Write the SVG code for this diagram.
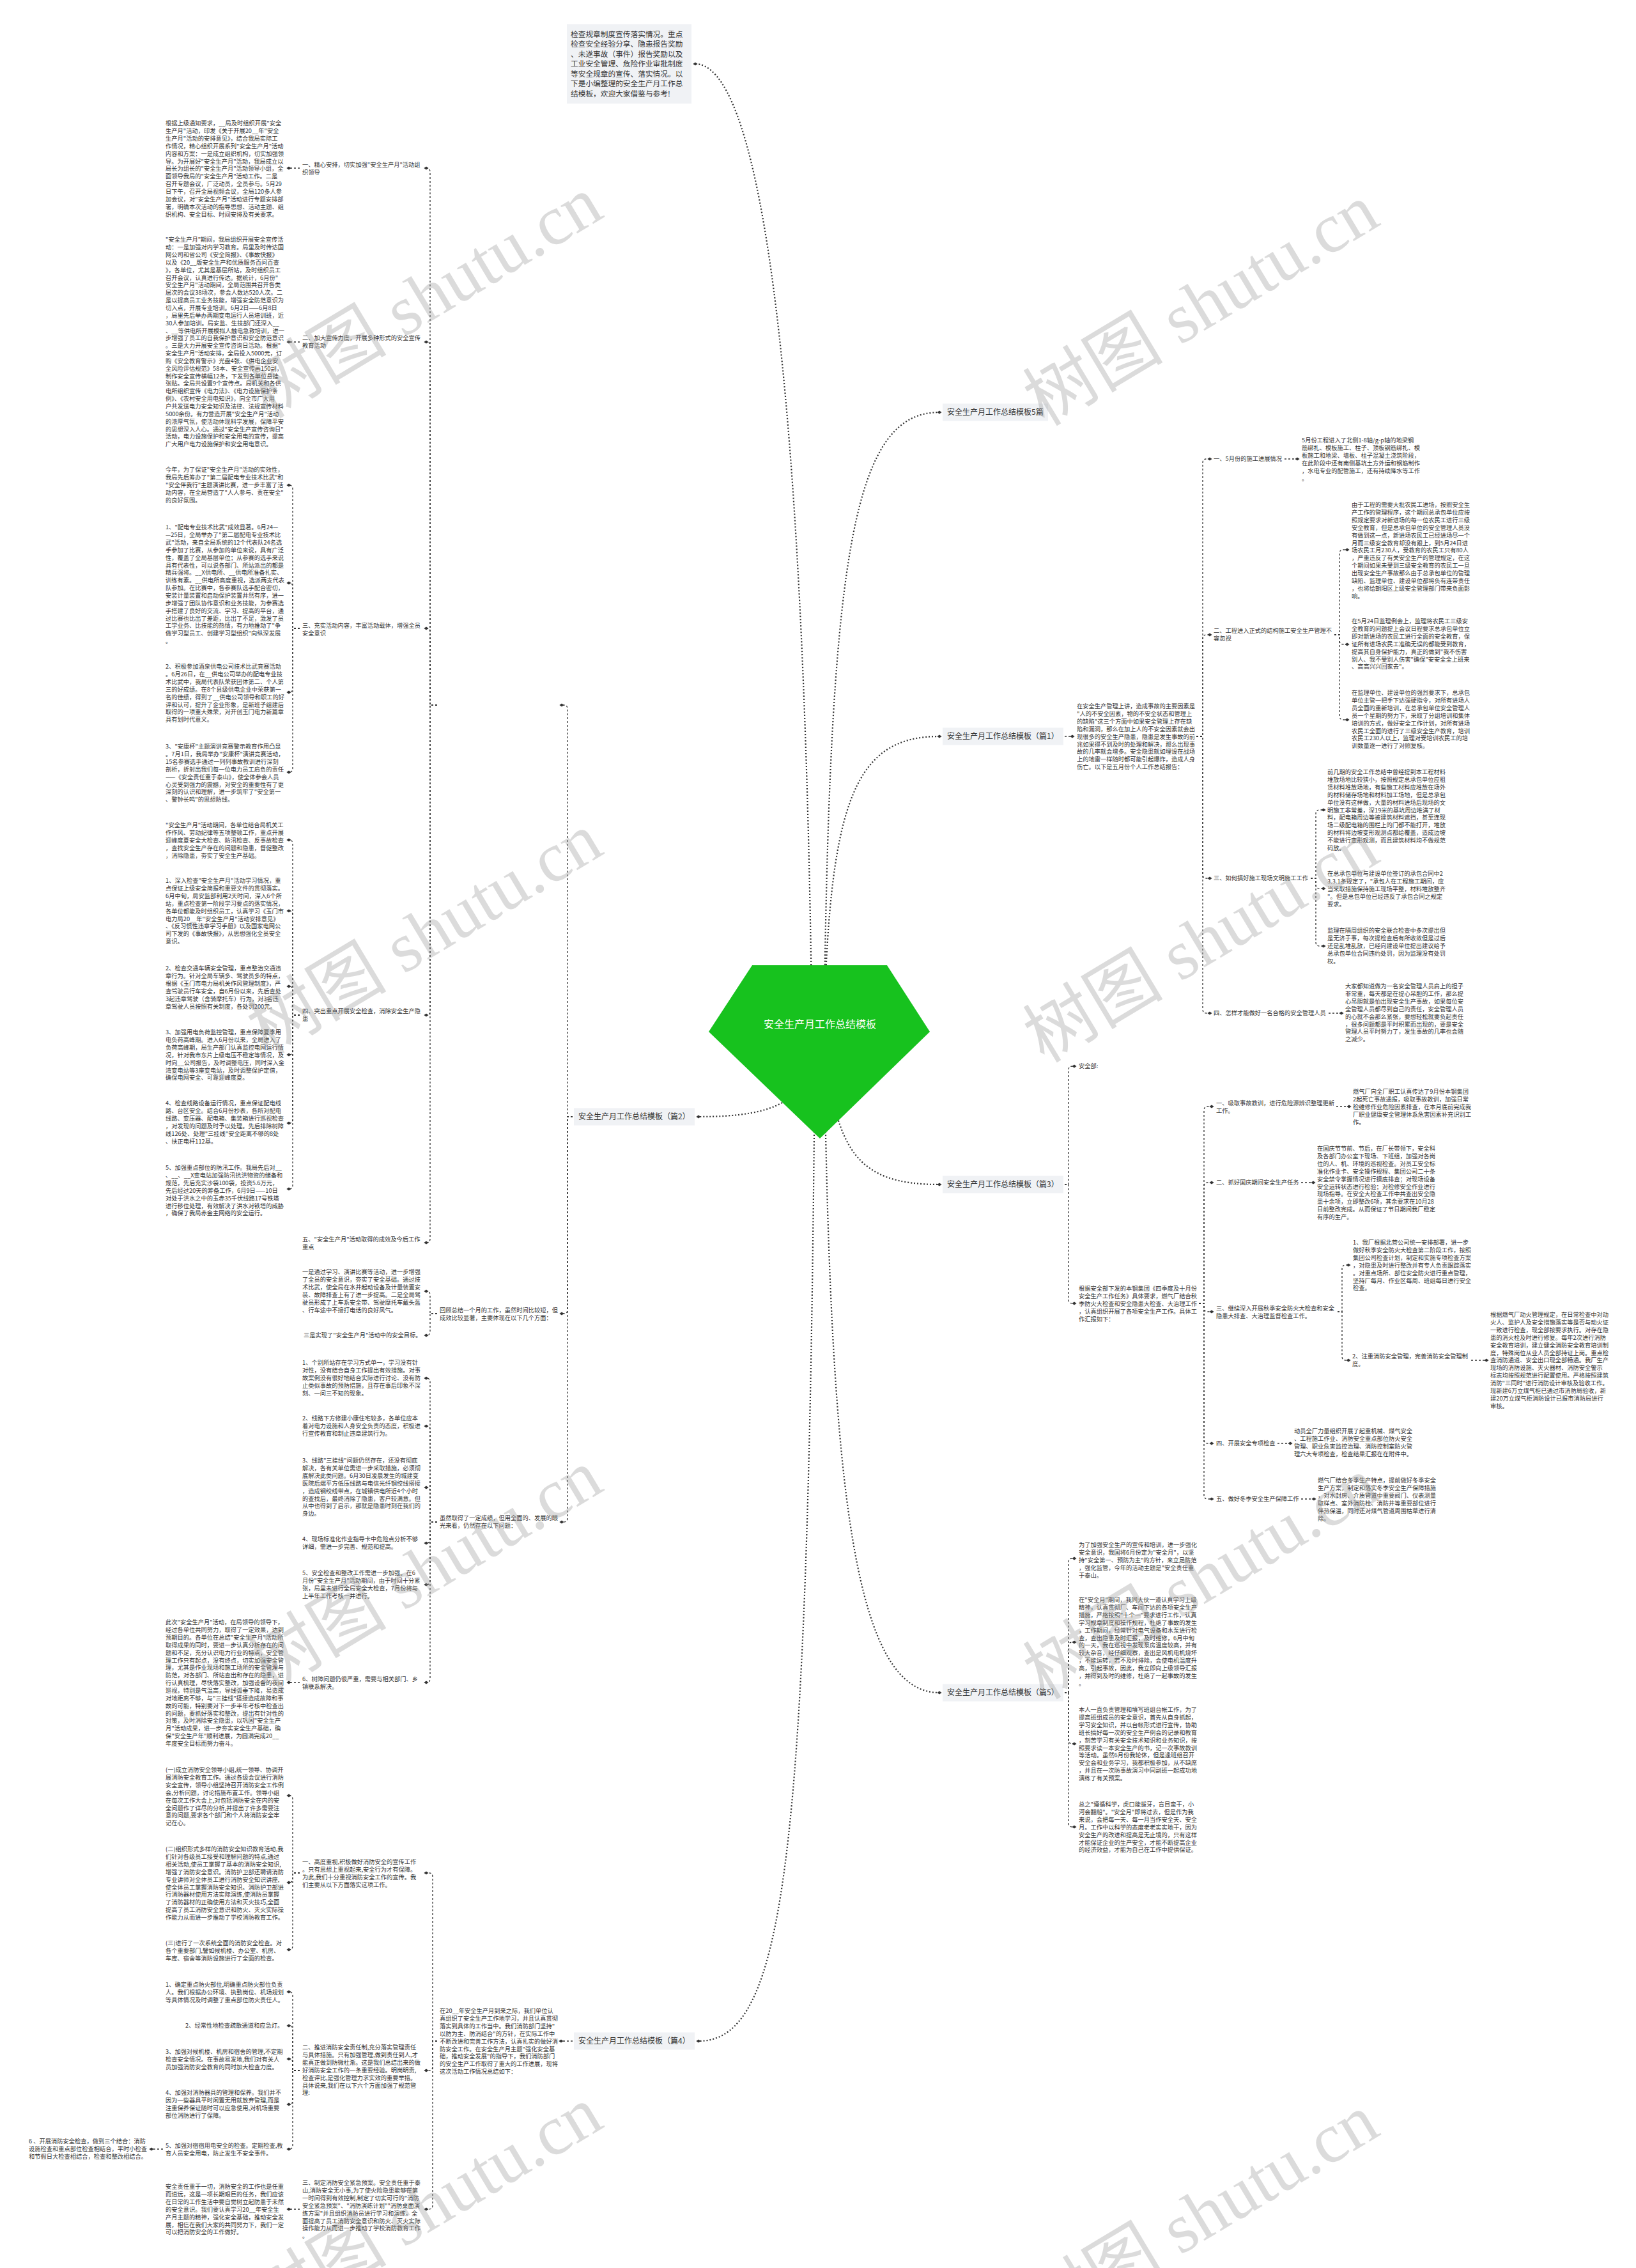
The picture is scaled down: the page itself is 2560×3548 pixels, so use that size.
<svg xmlns="http://www.w3.org/2000/svg" width="2560" height="3548" viewBox="0 0 2560 3548">
<defs>
<marker id="d" viewBox="-4 -4 8 8" markerWidth="8" markerHeight="8" refX="0" refY="0" markerUnits="userSpaceOnUse" orient="auto"><path d="M-3.6 0 L0 -2.6 L3.6 0 L0 2.6Z" fill="#333"/></marker>
<style>
.t{font-family:"Noto Sans CJK SC","Liberation Sans",sans-serif;font-size:9.25px;fill:#333}
.lb{font-family:"Noto Sans CJK SC","Liberation Sans",sans-serif;font-size:12px;fill:#333}
.in{font-family:"Noto Sans CJK SC","Liberation Sans",sans-serif;font-size:11.7px;fill:#333}
.c{fill:none;stroke:#333;stroke-width:1.3;stroke-dasharray:3 3;marker-end:url(#d)}
.r{fill:none;stroke:#333;stroke-width:2.2;stroke-dasharray:2 3;marker-end:url(#d)}
.box{fill:#F0F2F5}
.wm{font-family:"Liberation Serif","Noto Sans CJK SC",serif;font-size:110px;fill:#9a9a9a;opacity:.35}
</style>
</defs>
<rect width="2560" height="3548" fill="#fff"/>
<g id="connectors">
<path class="r" d="M1270 1560 C1255 500 1180 100 1088 100"/>
<path class="r" d="M1290 1560 C1300 850 1340 645 1470 645"/>
<path class="r" d="M1290 1580 C1300 1250 1340 1152 1470 1152"/>
<path class="r" d="M1290 1640 C1310 1800 1340 1853 1470 1853"/>
<path class="r" d="M1290 1660 C1300 2350 1340 2648 1470 2648"/>
<path class="r" d="M1280 1640 C1260 1720 1220 1747 1093 1747"/>
<path class="r" d="M1275 1660 C1265 2900 1230 3193 1093 3193"/>
<path class="c" d="M1666 1152 H1678"/>
<path class="c" d="M1872 1152 H1882 V724 Q1882 718 1888 718 H1893"/>
<path class="c" d="M1872 1152 H1882 V999 Q1882 993 1888 993 H1893"/>
<path class="c" d="M1872 1152 H1882 V1368 Q1882 1374 1888 1374 H1893"/>
<path class="c" d="M1872 1152 H1882 V1579 Q1882 1585 1888 1585 H1893"/>
<path class="c" d="M2010 718 H2030"/>
<path class="c" d="M2088 993 H2096 V866 Q2096 860 2102 860 H2108"/>
<path class="c" d="M2088 993 H2096 V1002 Q2096 1008 2102 1008 H2108"/>
<path class="c" d="M2088 993 H2096 V1120 Q2096 1126 2102 1126 H2108"/>
<path class="c" d="M2051 1374 H2059 V1273 Q2059 1267 2065 1267 H2071"/>
<path class="c" d="M2051 1374 H2059 V1384 Q2059 1390 2065 1390 H2071"/>
<path class="c" d="M2051 1374 H2059 V1474 Q2059 1480 2065 1480 H2071"/>
<path class="c" d="M2079 1585 H2099"/>
<path class="c" d="M1666 1853 H1672 V1674 Q1672 1668 1678 1668 H1681"/>
<path class="c" d="M1666 1853 H1672 V2033 Q1672 2039 1678 2039 H1681"/>
<path class="c" d="M1876 2039 H1884 V1737 Q1884 1731 1890 1731 H1896"/>
<path class="c" d="M1876 2039 H1884 V1856 Q1884 1850 1890 1850 H1896"/>
<path class="c" d="M1876 2039 H1884 V2046 Q1884 2052 1890 2052 H1896"/>
<path class="c" d="M1876 2039 H1884 V2252 Q1884 2258 1890 2258 H1896"/>
<path class="c" d="M1876 2039 H1884 V2339 Q1884 2345 1890 2345 H1896"/>
<path class="c" d="M2091 1731 H2111"/>
<path class="c" d="M2036 1850 H2055"/>
<path class="c" d="M2093 2052 H2100 V1985 Q2100 1979 2106 1979 H2110"/>
<path class="c" d="M2093 2052 H2100 V2122 Q2100 2128 2106 2128 H2110"/>
<path class="c" d="M2302 2128 H2326"/>
<path class="c" d="M1999 2258 H2019"/>
<path class="c" d="M2036 2345 H2056"/>
<path class="c" d="M1666 2648 H1672 V2444 Q1672 2438 1678 2438 H1681"/>
<path class="c" d="M1666 2648 H1672 V2575 Q1672 2569 1678 2569 H1681"/>
<path class="c" d="M1666 2648 H1672 V2722 Q1672 2728 1678 2728 H1681"/>
<path class="c" d="M1666 2648 H1672 V2852 Q1672 2858 1678 2858 H1681"/>
<path class="c" d="M896 1747 H888 V1109 Q888 1103 882 1103 H879"/>
<path class="c" d="M896 1747 H888 V2049 Q888 2055 882 2055 H879"/>
<path class="c" d="M896 1747 H888 V2375 Q888 2381 882 2381 H879"/>
<path class="c" d="M684 1103 H673 V269 Q673 263 667 263"/>
<path class="c" d="M684 1103 H673 V541 Q673 535 667 535"/>
<path class="c" d="M684 1103 H673 V989 Q673 983 667 983"/>
<path class="c" d="M684 1103 H673 V1582 Q673 1588 667 1588"/>
<path class="c" d="M684 1103 H673 V1938 Q673 1944 667 1944"/>
<path class="c" d="M469 263 H452"/>
<path class="c" d="M469 535 H452"/>
<path class="c" d="M469 983 H458 V765 Q458 759 452 759"/>
<path class="c" d="M469 983 H458 V918 Q458 912 452 912"/>
<path class="c" d="M469 983 H458 V1077 Q458 1083 452 1083"/>
<path class="c" d="M469 983 H458 V1202 Q458 1208 452 1208"/>
<path class="c" d="M469 1588 H458 V1320 Q458 1314 452 1314"/>
<path class="c" d="M469 1588 H458 V1431 Q458 1425 452 1425"/>
<path class="c" d="M469 1588 H458 V1549 Q458 1543 452 1543"/>
<path class="c" d="M469 1588 H458 V1644 Q458 1650 452 1650"/>
<path class="c" d="M469 1588 H458 V1751 Q458 1757 452 1757"/>
<path class="c" d="M469 1588 H458 V1854 Q458 1860 452 1860"/>
<path class="c" d="M684 2055 H673 V2026 Q673 2020 667 2020"/>
<path class="c" d="M684 2055 H673 V2083 Q673 2089 667 2089"/>
<path class="c" d="M684 2381 H673 V2162 Q673 2156 667 2156"/>
<path class="c" d="M684 2381 H673 V2237 Q673 2231 667 2231"/>
<path class="c" d="M684 2381 H673 V2333 Q673 2327 667 2327"/>
<path class="c" d="M684 2381 H673 V2408 Q673 2414 667 2414"/>
<path class="c" d="M684 2381 H673 V2473 Q673 2479 667 2479"/>
<path class="c" d="M684 2381 H673 V2626 Q673 2632 667 2632"/>
<path class="c" d="M469 2632 H452"/>
<path class="c" d="M896 3193 H878"/>
<path class="c" d="M684 3193 H677 V2936 Q677 2930 671 2930 H667"/>
<path class="c" d="M684 3193 H677 V3233 Q677 3239 671 3239 H667"/>
<path class="c" d="M684 3193 H677 V3450 Q677 3456 671 3456 H667"/>
<path class="c" d="M469 2930 H458 V2815 Q458 2809 452 2809"/>
<path class="c" d="M469 2930 H458 V2939 Q458 2945 452 2945"/>
<path class="c" d="M469 2930 H458 V3044 Q458 3050 452 3050"/>
<path class="c" d="M469 3239 H458 V3122 Q458 3116 452 3116"/>
<path class="c" d="M469 3239 H458 V3175 Q458 3169 452 3169"/>
<path class="c" d="M469 3239 H458 V3227 Q458 3221 452 3221"/>
<path class="c" d="M469 3239 H458 V3286 Q458 3292 452 3292"/>
<path class="c" d="M469 3239 H458 V3356 Q458 3362 452 3362"/>
<path class="c" d="M469 3456 H452"/>
<path class="c" d="M255 3362 H237"/>
</g>
<g id="root">
<polygon points="1177,1510 1388,1510 1455,1614 1283,1781 1109,1614" fill="#17C21E"/>
<text x="1283" y="1608" text-anchor="middle" font-family="Noto Sans CJK SC,Liberation Sans,sans-serif" font-size="16" fill="#fff">安全生产月工作总结模板</text>
</g>
<g id="intro">
<rect class="box" x="887" y="38" width="195" height="124"/>
<text class="in" x="893" y="57.5"><tspan x="893">检查规章制度宣传落实情况。重点</tspan><tspan x="893" dy="15.5">检查安全经验分享、隐患报告奖励</tspan><tspan x="893" dy="15.5">、未遂事故（事件）报告奖励以及</tspan><tspan x="893" dy="15.5">工业安全管理、危险作业审批制度</tspan><tspan x="893" dy="15.5">等安全规章的宣传、落实情况。以</tspan><tspan x="893" dy="15.5">下是小编整理的安全生产月工作总</tspan><tspan x="893" dy="15.5">结模板，欢迎大家借鉴与参考!</tspan></text>
</g>
<g id="b5"><rect class="box" x="1475" y="631.5" width="165" height="27"/><text class="lb" x="1482" y="649.3">安全生产月工作总结模板5篇</text></g>
<g id="b1"><rect class="box" x="1475" y="1138.5" width="189" height="27"/><text class="lb" x="1482" y="1156.3">安全生产月工作总结模板（篇1）</text></g>
<g id="b3"><rect class="box" x="1475" y="1839.5" width="189" height="27"/><text class="lb" x="1482" y="1857.3">安全生产月工作总结模板（篇3）</text></g>
<g id="b5p"><rect class="box" x="1475" y="2634.5" width="189" height="27"/><text class="lb" x="1482" y="2652.3">安全生产月工作总结模板（篇5）</text></g>
<g id="b2"><rect class="box" x="898" y="1733.5" width="189" height="27"/><text class="lb" x="905" y="1751.3">安全生产月工作总结模板（篇2）</text></g>
<g id="b4"><rect class="box" x="898" y="3179.5" width="189" height="27"/><text class="lb" x="905" y="3197.3">安全生产月工作总结模板（篇4）</text></g>

<g id="A0"><text class="t" x="1685" y="1108.3"><tspan x="1685">在安全生产管理上讲，造成事故的主要因素是</tspan><tspan x="1685" dy="11.85">"人的不安全因素，物的不安全状态和管理上</tspan><tspan x="1685" dy="11.85">的缺陷"这三个方面中如果安全管理上存在缺</tspan><tspan x="1685" dy="11.85">陷和漏洞，那么在加上人的不安全因素就会出</tspan><tspan x="1685" dy="11.85">现很多的安全生产隐患，隐患是发生事故的前</tspan><tspan x="1685" dy="11.85">兆如果得不到及时的处理和解决，那么出现事</tspan><tspan x="1685" dy="11.85">故的几率就会增多。安全隐患就如埋设在战场</tspan><tspan x="1685" dy="11.85">上的地雷一样随时都可能引起爆炸，造成人身</tspan><tspan x="1685" dy="11.85">伤亡。以下是五月份个人工作总结报告：</tspan></text></g>
<g id="A1"><text class="t" x="1899" y="721.3">一、5月份的施工进展情况</text></g>
<g id="A1t"><text class="t" x="2037" y="692.3"><tspan x="2037">5月份工程进入了北侧1-8轴/g-p轴的地梁钢</tspan><tspan x="2037" dy="11.85">筋绑扎、模板施工、柱子、顶板钢筋绑扎、模</tspan><tspan x="2037" dy="11.85">板施工和地梁、墙板、柱子混凝土浇筑阶段，</tspan><tspan x="2037" dy="11.85">在此阶段中还有南侧基坑土方外运和钢筋制作</tspan><tspan x="2037" dy="11.85">，水电专业的配管施工，还有持续降水等工作</tspan><tspan x="2037" dy="11.85">。</tspan></text></g>
<g id="A2"><text class="t" x="1899" y="990.3"><tspan x="1899">二、工程进入正式的结构施工安全生产管理不</tspan><tspan x="1899" dy="11.85">容忽视</tspan></text></g>
<g id="A2a"><text class="t" x="2115" y="793.3"><tspan x="2115">由于工程的需要大批农民工进场，按照安全生</tspan><tspan x="2115" dy="11.85">产工作的管理程序，这个期间总承包单位应按</tspan><tspan x="2115" dy="11.85">照规定要求对新进场的每一位农民工进行三级</tspan><tspan x="2115" dy="11.85">安全教育，但是总承包单位的安全管理人员没</tspan><tspan x="2115" dy="11.85">有做到这一点，新进场农民工已经进场尽一个</tspan><tspan x="2115" dy="11.85">月而三级安全教育却没有跟上，到5月24日进</tspan><tspan x="2115" dy="11.85">场农民工月230人，受教育的农民工只有80人</tspan><tspan x="2115" dy="11.85">，严重违反了有关安全生产的管理规定，在这</tspan><tspan x="2115" dy="11.85">个期间如果未受到三级安全教育的农民工一旦</tspan><tspan x="2115" dy="11.85">出现安全生产事故那么由于总承包单位的管理</tspan><tspan x="2115" dy="11.85">缺陷、监理单位、建设单位都将负有连带责任</tspan><tspan x="2115" dy="11.85">，也将给朝阳区上级安全管理部门带来负面影</tspan><tspan x="2115" dy="11.85">响。</tspan></text></g>
<g id="A2b"><text class="t" x="2115" y="975.3"><tspan x="2115">在5月24日监理例会上，监理将农民工三级安</tspan><tspan x="2115" dy="11.85">全教育的问题提上会议日程要求总承包单位立</tspan><tspan x="2115" dy="11.85">即对新进场的农民工进行全面的安全教育，保</tspan><tspan x="2115" dy="11.85">证所有进场农民工准确无误的都能受到教育，</tspan><tspan x="2115" dy="11.85">提高其自身保护能力，真正的做到"我不伤害</tspan><tspan x="2115" dy="11.85">别人、我不受别人伤害"确保"安安全全上班来</tspan><tspan x="2115" dy="11.85">、高高兴兴回家去"。</tspan></text></g>
<g id="A2c"><text class="t" x="2115" y="1087.3"><tspan x="2115">在监理单位、建设单位的强烈要求下，总承包</tspan><tspan x="2115" dy="11.85">单位主管一把手下达强硬指令，对所有进场人</tspan><tspan x="2115" dy="11.85">员全面的重新培训，在总承包单位安全管理人</tspan><tspan x="2115" dy="11.85">员一个星期的努力下，采取了分组培训和集体</tspan><tspan x="2115" dy="11.85">培训的方式，做好安全工作计划，对所有进场</tspan><tspan x="2115" dy="11.85">农民工全面的进行了三级安全生产教育，培训</tspan><tspan x="2115" dy="11.85">农民工230人以上，监理对受培训农民工的培</tspan><tspan x="2115" dy="11.85">训数量逐一进行了对照复核。</tspan></text></g>
<g id="A3"><text class="t" x="1899" y="1377.3">三、如何搞好施工现场文明施工工作</text></g>
<g id="A3a"><text class="t" x="2077" y="1211.3"><tspan x="2077">前几期的安全工作总结中曾经提到本工程材料</tspan><tspan x="2077" dy="11.85">堆放场地比较狭小，按照规定总承包单位应租</tspan><tspan x="2077" dy="11.85">赁材料堆放场地，有些施工材料应堆放在场外</tspan><tspan x="2077" dy="11.85">的材料储存场地和材料加工场地，但是总承包</tspan><tspan x="2077" dy="11.85">单位没有这样做，大量的材料进场后现场的文</tspan><tspan x="2077" dy="11.85">明施工非常差，深19米的基坑周边堆满了材</tspan><tspan x="2077" dy="11.85">料，配电箱周边等被建筑材料遮挡，甚至连现</tspan><tspan x="2077" dy="11.85">场二级配电箱的围栏上的门都不能打开，堆放</tspan><tspan x="2077" dy="11.85">的材料将边坡变形观测点都给覆盖，造成边坡</tspan><tspan x="2077" dy="11.85">不能进行变形观测，而且建筑材料均不做规范</tspan><tspan x="2077" dy="11.85">码放。</tspan></text></g>
<g id="A3b"><text class="t" x="2077" y="1370.3"><tspan x="2077">在总承包单位与建设单位签订的承包合同中2</tspan><tspan x="2077" dy="11.85">3.3.1条规定了，"承包人在工程施工期间，应</tspan><tspan x="2077" dy="11.85">当采取措施保持施工现场平整，材料堆放整齐</tspan><tspan x="2077" dy="11.85">"。但是总包单位已经违反了承包合同之规定</tspan><tspan x="2077" dy="11.85">要求。</tspan></text></g>
<g id="A3c"><text class="t" x="2077" y="1459.3"><tspan x="2077">监理在隔周组织的安全联合检查中多次提出但</tspan><tspan x="2077" dy="11.85">是无济于事，每次提检查后有所收敛但是过后</tspan><tspan x="2077" dy="11.85">还是乱堆乱放，已经向建设单位提出建议给予</tspan><tspan x="2077" dy="11.85">总承包单位合同违约处罚，因为监理没有处罚</tspan><tspan x="2077" dy="11.85">权。</tspan></text></g>
<g id="A4"><text class="t" x="1899" y="1588.3">四、怎样才能做好一名合格的安全管理人员</text></g>
<g id="A4t"><text class="t" x="2105" y="1546.3"><tspan x="2105">大家都知道做为一名安全管理人员肩上的担子</tspan><tspan x="2105" dy="11.85">非常重，每天都是在提心吊胆的工作，那么提</tspan><tspan x="2105" dy="11.85">心吊胆就是怕出现安全生产事故，如果每位安</tspan><tspan x="2105" dy="11.85">全管理人员都尽到自己的责任，安全管理人员</tspan><tspan x="2105" dy="11.85">的心就不会那么紧张，要想轻松就要负起责任</tspan><tspan x="2105" dy="11.85">，很多问题都是平时积累而出现的，要是安全</tspan><tspan x="2105" dy="11.85">管理人员平时努力了，发生事故的几率也会随</tspan><tspan x="2105" dy="11.85">之减少。</tspan></text></g>

<g id="B0"><text class="t" x="1688" y="1671.3">安全部:</text></g>
<g id="B1"><text class="t" x="1688" y="2019.3"><tspan x="1688">根据安全部下发的本钢集团《四季度及十月份</tspan><tspan x="1688" dy="11.85">安全生产工作任务》具体要求，燃气厂结合秋</tspan><tspan x="1688" dy="11.85">季防火大检查和安全隐患大检查、大治理工作</tspan><tspan x="1688" dy="11.85">，认真组织开展了各项安全生产工作。具体工</tspan><tspan x="1688" dy="11.85">作汇报如下：</tspan></text></g>
<g id="B2"><text class="t" x="1903" y="1729.3"><tspan x="1903">一、吸取事故教训，进行危险源辨识整理更新</tspan><tspan x="1903" dy="11.85">工作。</tspan></text></g>
<g id="B2t"><text class="t" x="2117" y="1711.3"><tspan x="2117">燃气厂向全厂职工认真传达了9月份本钢集团</tspan><tspan x="2117" dy="11.85">2起死亡事故通报，吸取事故教训，加强日常</tspan><tspan x="2117" dy="11.85">检维修作业危险因素排查，在本月底前完成我</tspan><tspan x="2117" dy="11.85">厂职业健康安全管理体系危害因素补充识别工</tspan><tspan x="2117" dy="11.85">作。</tspan></text></g>
<g id="B3"><text class="t" x="1903" y="1853.3">二、抓好国庆期间安全生产任务</text></g>
<g id="B3t"><text class="t" x="2061" y="1800.3"><tspan x="2061">在国庆节节前、节后，在厂长带领下，安全科</tspan><tspan x="2061" dy="11.85">及各部门办公室下现场、下班组，加强对各岗</tspan><tspan x="2061" dy="11.85">位的人、机、环境的巡视检查。对员工安全标</tspan><tspan x="2061" dy="11.85">准化作业卡、安全操作规程、集团公司二十条</tspan><tspan x="2061" dy="11.85">安全禁令掌握情况进行摸底排查；对现场设备</tspan><tspan x="2061" dy="11.85">安全运转状态进行检验；对检修安全作业进行</tspan><tspan x="2061" dy="11.85">现场指导。在安全大检查工作中共查出安全隐</tspan><tspan x="2061" dy="11.85">患十余项，立即整改6项，其余要求在10月28</tspan><tspan x="2061" dy="11.85">日前整改完成。从而保证了节日期间我厂稳定</tspan><tspan x="2061" dy="11.85">有序的生产。</tspan></text></g>
<g id="B4"><text class="t" x="1903" y="2050.3"><tspan x="1903">三、继续深入开展秋季安全防火大检查和安全</tspan><tspan x="1903" dy="11.85">隐患大排查、大治理监督检查工作。</tspan></text></g>
<g id="B4a"><text class="t" x="2117" y="1947.3"><tspan x="2117">1、我厂根据北营公司统一安排部署，进一步</tspan><tspan x="2117" dy="11.85">做好秋季安全防火大检查第二阶段工作，按照</tspan><tspan x="2117" dy="11.85">集团公司检查计划，制定和实施专项检查方案</tspan><tspan x="2117" dy="11.85">，对隐患及时进行整改并有专人负责跟踪落实</tspan><tspan x="2117" dy="11.85">。对重点场所、部位安全防火进行重点管理，</tspan><tspan x="2117" dy="11.85">坚持厂每月、作业区每周、班组每日进行安全</tspan><tspan x="2117" dy="11.85">检查。</tspan></text></g>
<g id="B4b"><text class="t" x="2116" y="2125.3"><tspan x="2116">2、注重消防安全管理，完善消防安全管理制</tspan><tspan x="2116" dy="11.85">度。</tspan></text></g>
<g id="B4bt"><text class="t" x="2332" y="2060.3"><tspan x="2332">根据燃气厂动火管理规定，在日常检查中对动</tspan><tspan x="2332" dy="11.85">火人、监护人及安全措施落实等是否与动火证</tspan><tspan x="2332" dy="11.85">一致进行检查，现全部按要求执行。对存在隐</tspan><tspan x="2332" dy="11.85">患的消火栓及时进行修复。每年2次进行消防</tspan><tspan x="2332" dy="11.85">安全教育培训，建立健全消防安全教育培训制</tspan><tspan x="2332" dy="11.85">度，特殊岗位从业人员全部持证上岗。重点检</tspan><tspan x="2332" dy="11.85">查消防通道、安全出口现全部畅通。我厂生产</tspan><tspan x="2332" dy="11.85">现场的消防设施、灭火器材、消防安全警示</tspan><tspan x="2332" dy="11.85">标志均按照规范进行配置使用。严格按照建筑</tspan><tspan x="2332" dy="11.85">消防"三同时"进行消防设计审核及验收工作。</tspan><tspan x="2332" dy="11.85">现新建6万立煤气柜已通过市消防局验收，新</tspan><tspan x="2332" dy="11.85">建20万立煤气柜消防设计已报市消防局进行</tspan><tspan x="2332" dy="11.85">审核。</tspan></text></g>
<g id="B5"><text class="t" x="1903" y="2261.3">四、开展安全专项检查</text></g>
<g id="B5t"><text class="t" x="2025" y="2242.3"><tspan x="2025">动员全厂力量组织开展了起重机械、煤气安全</tspan><tspan x="2025" dy="11.85">、工程施工作业、消防安全重点部位防火安全</tspan><tspan x="2025" dy="11.85">管理、职业危害监控治理、消防控制室防火管</tspan><tspan x="2025" dy="11.85">理六大专项检查，检查结果汇报在在附件中。</tspan></text></g>
<g id="B6"><text class="t" x="1903" y="2348.3">五、做好冬季安全生产保障工作</text></g>
<g id="B6t"><text class="t" x="2062" y="2319.3"><tspan x="2062">燃气厂结合冬季生产特点，提前做好冬季安全</tspan><tspan x="2062" dy="11.85">生产方案，制定和落实冬季安全生产保障措施</tspan><tspan x="2062" dy="11.85">，对水封房、介质管道中重要阀门、仪表测量</tspan><tspan x="2062" dy="11.85">取样点、室外消防栓、消防井等重要部位进行</tspan><tspan x="2062" dy="11.85">伴热保温，同时还对煤气管道周围枯草进行清</tspan><tspan x="2062" dy="11.85">除。</tspan></text></g>

<g id="C1"><text class="t" x="1688" y="2420.3"><tspan x="1688">为了加强安全生产的宣传和培训，进一步强化</tspan><tspan x="1688" dy="11.85">安全意识，我国将6月份定为"安全月"，以坚</tspan><tspan x="1688" dy="11.85">持"安全第一、预防为主"的方针，来立足防范</tspan><tspan x="1688" dy="11.85">，强化监管，今年的活动主题是"安全责任重</tspan><tspan x="1688" dy="11.85">于泰山。</tspan></text></g>
<g id="C2"><text class="t" x="1688" y="2506.3"><tspan x="1688">在"安全月"期间，我同大伙一道认真学习上级</tspan><tspan x="1688" dy="11.85">精神，认真贯彻厂、车间下达的各项安全生产</tspan><tspan x="1688" dy="11.85">措施，严格按照"十个一"要求进行工作，认真</tspan><tspan x="1688" dy="11.85">学习规章制度和操作规程，杜绝了事故的发生</tspan><tspan x="1688" dy="11.85">，工作期间，经常针对电气设备和水泵进行检</tspan><tspan x="1688" dy="11.85">查，查出隐患及时汇报，及时维修，6月中旬</tspan><tspan x="1688" dy="11.85">的一天，我在巡视中发现泵房温度较高，并有</tspan><tspan x="1688" dy="11.85">较大杂音，经仔细观察，查出是风机电机烧坏</tspan><tspan x="1688" dy="11.85">，不能运转，若不及时排除，会使电机温度升</tspan><tspan x="1688" dy="11.85">高，引起事故，因此，我立即向上级领导汇报</tspan><tspan x="1688" dy="11.85">，并得到及时的维修，杜绝了一起事故的发生</tspan><tspan x="1688" dy="11.85">。</tspan></text></g>
<g id="C3"><text class="t" x="1688" y="2678.3"><tspan x="1688">本人一直负责管理和填写班组台帐工作，为了</tspan><tspan x="1688" dy="11.85">提高班组成员的安全意识，首先从自身抓起，</tspan><tspan x="1688" dy="11.85">学习安全知识，并以台帐形式进行宣传，协助</tspan><tspan x="1688" dy="11.85">班长搞好每一次的安全生产例会的记录和教育</tspan><tspan x="1688" dy="11.85">，刻苦学习有关安全技术知识和业务知识，按</tspan><tspan x="1688" dy="11.85">照要求读一本安全生产的书，记一次事故教训</tspan><tspan x="1688" dy="11.85">等活动。虽然6月份我轮休，但是逢班组召开</tspan><tspan x="1688" dy="11.85">安全会和业务学习，我都积极参加，从不缺席</tspan><tspan x="1688" dy="11.85">，并且在一次防事故演习中同副班一起成功地</tspan><tspan x="1688" dy="11.85">演练了有关预案。</tspan></text></g>
<g id="C4"><text class="t" x="1688" y="2826.3"><tspan x="1688">总之"遵循科学，虎口能拔牙，盲目蛮干，小</tspan><tspan x="1688" dy="11.85">河会翻船"。"安全月"即将过去，但是作为我</tspan><tspan x="1688" dy="11.85">来说，会把每一天、每一月当作安全天、安全</tspan><tspan x="1688" dy="11.85">月。工作中以科学的态度老老实实地干，因为</tspan><tspan x="1688" dy="11.85">安全生产的改进和提高是无止境的，只有这样</tspan><tspan x="1688" dy="11.85">才能保证企业的生产安全，才能不断提高企业</tspan><tspan x="1688" dy="11.85">的经济效益，才能为自己在工作中提供保证。</tspan></text></g>

<g id="S1"><text class="t" x="473" y="261.3"><tspan x="473">一、精心安排，切实加强"安全生产月"活动组</tspan><tspan x="473" dy="11.85">织领导</tspan></text></g>
<g id="S2"><text class="t" x="473" y="532.3"><tspan x="473">二、加大宣传力度，开展多种形式的安全宣传</tspan><tspan x="473" dy="11.85">教育活动</tspan></text></g>
<g id="S3"><text class="t" x="473" y="982.3"><tspan x="473">三、充实活动内容，丰富活动载体，增强全员</tspan><tspan x="473" dy="11.85">安全意识</tspan></text></g>
<g id="S4"><text class="t" x="473" y="1585.3"><tspan x="473">四、突出重点开展安全检查，消除安全生产隐</tspan><tspan x="473" dy="11.85">患</tspan></text></g>
<g id="S5"><text class="t" x="473" y="1942.3"><tspan x="473">五、"安全生产月"活动取得的成效及今后工作</tspan><tspan x="473" dy="11.85">重点</tspan></text></g>

<g id="L1"><text class="t" x="259" y="196.3"><tspan x="259">根据上级通知要求，__局及时组织开展"安全</tspan><tspan x="259" dy="11.85">生产月"活动，印发《关于开展20__年"安全</tspan><tspan x="259" dy="11.85">生产月"活动的安排意见》，结合我局实际工</tspan><tspan x="259" dy="11.85">作情况，精心组织开展系列"安全生产月"活动</tspan><tspan x="259" dy="11.85">内容和方案：一是成立组织机构，切实加强领</tspan><tspan x="259" dy="11.85">导。为开展好"安全生产月"活动，我局成立以</tspan><tspan x="259" dy="11.85">局长为组长的"安全生产月"活动领导小组，全</tspan><tspan x="259" dy="11.85">面领导我局的"安全生产月"活动工作。二是</tspan><tspan x="259" dy="11.85">召开专题会议，广泛动员，全员参与。5月29</tspan><tspan x="259" dy="11.85">日下午，召开全局视频会议，全局120多人参</tspan><tspan x="259" dy="11.85">加会议，对"安全生产月"活动进行专题安排部</tspan><tspan x="259" dy="11.85">署，明确本次活动的指导思想、活动主题、组</tspan><tspan x="259" dy="11.85">织机构、安全目标、时间安排及有关要求。</tspan></text></g>
<g id="L2"><text class="t" x="259" y="378.3"><tspan x="259">"安全生产月"期间，我局组织开展安全宣传活</tspan><tspan x="259" dy="11.85">动：一是加强对内学习教育。局里及时传达国</tspan><tspan x="259" dy="11.85">网公司和省公司《安全简报》、《事故快报》</tspan><tspan x="259" dy="11.85">以及《20__版安全生产和优质服务百问百查</tspan><tspan x="259" dy="11.85">》，各单位，尤其是基层所站，及时组织员工</tspan><tspan x="259" dy="11.85">召开会议，认真进行传达。据统计，6月份"</tspan><tspan x="259" dy="11.85">安全生产月"活动期间，全局范围共召开各类</tspan><tspan x="259" dy="11.85">层次的会议38场次，参会人数达520人次。二</tspan><tspan x="259" dy="11.85">是以提高员工业务技能，增强安全防范意识为</tspan><tspan x="259" dy="11.85">切入点，开展专业培训。6月2日——6月8日</tspan><tspan x="259" dy="11.85">，局里先后举办两期变电运行人员培训班，近</tspan><tspan x="259" dy="11.85">30人参加培训。局安监、生技部门还深入__</tspan><tspan x="259" dy="11.85">、__等供电所开展模拟人触电急救培训，进一</tspan><tspan x="259" dy="11.85">步增强了员工的自我保护意识和安全防范意识</tspan><tspan x="259" dy="11.85">。三是大力开展安全宣传咨询日活动。根据"</tspan><tspan x="259" dy="11.85">安全生产月"活动安排，全局投入5000元，订</tspan><tspan x="259" dy="11.85">购《安全教育警示》光盘4张、《供电企业安</tspan><tspan x="259" dy="11.85">全风险评估规范》58本、安全宣传画150副，</tspan><tspan x="259" dy="11.85">制作安全宣传横幅12条，下发到各单位悬挂</tspan><tspan x="259" dy="11.85">张贴。全局共设置9个宣传点。局机关和各供</tspan><tspan x="259" dy="11.85">电所组织宣传《电力法》、《电力设施保护条</tspan><tspan x="259" dy="11.85">例》、《农村安全用电知识》，向全市广大用</tspan><tspan x="259" dy="11.85">户共发送电力安全知识及法律、法规宣传材料</tspan><tspan x="259" dy="11.85">5000余份。有力营造开展"安全生产月"活动</tspan><tspan x="259" dy="11.85">的浓厚气氛，使活动体现科学发展，保障平安</tspan><tspan x="259" dy="11.85">的思想深入人心。通过"安全生产宣传咨询日"</tspan><tspan x="259" dy="11.85">活动，电力设施保护和安全用电的宣传，提高</tspan><tspan x="259" dy="11.85">广大用户电力设施保护和安全用电意识。</tspan></text></g>
<g id="L3"><text class="t" x="259" y="738.3"><tspan x="259">今年，为了保证"安全生产月"活动的实效性，</tspan><tspan x="259" dy="11.85">我局先后筹办了"第二届配电专业技术比武"和</tspan><tspan x="259" dy="11.85">"安全伴我行"主题演讲比赛，进一步丰富了活</tspan><tspan x="259" dy="11.85">动内容，在全局营造了"人人参与、责在安全"</tspan><tspan x="259" dy="11.85">的良好氛围。</tspan></text></g>
<g id="L4"><text class="t" x="259" y="828.3"><tspan x="259">1、"配电专业技术比武"成效显著。6月24—</tspan><tspan x="259" dy="11.85">—25日，全局举办了"第二届配电专业技术比</tspan><tspan x="259" dy="11.85">武"活动，来自全局系统的12个代表队24名选</tspan><tspan x="259" dy="11.85">手参加了比赛，从参加的单位来说，具有广泛</tspan><tspan x="259" dy="11.85">性，覆盖了全局基层单位；从参赛的选手来说</tspan><tspan x="259" dy="11.85">具有代表性，可以说各部门、所站派出的都是</tspan><tspan x="259" dy="11.85">精兵强将。__X供电所、__供电所准备扎实、</tspan><tspan x="259" dy="11.85">训练有素。__供电所高度重视，选派两支代表</tspan><tspan x="259" dy="11.85">队参加。在比赛中，各参赛队选手配合密切，</tspan><tspan x="259" dy="11.85">安装计量装置和启动保护装置井然有序，进一</tspan><tspan x="259" dy="11.85">步增强了团队协作意识和业务技能，为参赛选</tspan><tspan x="259" dy="11.85">手搭建了良好的交流、学习、提高的平台，通</tspan><tspan x="259" dy="11.85">过比赛也比出了差距，比出了不足，激发了员</tspan><tspan x="259" dy="11.85">工学业务、比技能的热情，有力地推动了"争</tspan><tspan x="259" dy="11.85">做学习型员工、创建学习型组织"向纵深发展</tspan><tspan x="259" dy="11.85">。</tspan></text></g>
<g id="L5"><text class="t" x="259" y="1046.3"><tspan x="259">2、积极参加酒泉供电公司技术比武竞赛活动</tspan><tspan x="259" dy="11.85">。6月26日，在__供电公司举办的配电专业技</tspan><tspan x="259" dy="11.85">术比武中，我局代表队荣获团体第二、个人第</tspan><tspan x="259" dy="11.85">三的好成绩。在8个县级供电企业中荣获第一</tspan><tspan x="259" dy="11.85">名的佳绩，得到了__供电公司领导和职工的好</tspan><tspan x="259" dy="11.85">评和认可，提升了企业形象，是新班子组建后</tspan><tspan x="259" dy="11.85">取得的一项重大殊荣，对开创玉门电力新篇章</tspan><tspan x="259" dy="11.85">具有划时代意义。</tspan></text></g>
<g id="L6"><text class="t" x="259" y="1171.3"><tspan x="259">3、"安康杯"主题演讲竞赛警示教育作用凸显</tspan><tspan x="259" dy="11.85">。7月1日，我局举办"安康杯"演讲竞赛活动，</tspan><tspan x="259" dy="11.85">15名参赛选手通过一列列事故教训进行深刻</tspan><tspan x="259" dy="11.85">剖析，折射出我们每一位电力员工肩负的责任</tspan><tspan x="259" dy="11.85">——《安全责任重于泰山》，使全体参会人员</tspan><tspan x="259" dy="11.85">心灵受到强力的震撼，对安全的重要性有了更</tspan><tspan x="259" dy="11.85">深刻的认识和理解，进一步筑牢了"安全第一</tspan><tspan x="259" dy="11.85">、警钟长鸣"的思想防线。</tspan></text></g>
<g id="L7"><text class="t" x="259" y="1294.3"><tspan x="259">"安全生产月"活动期间，各单位结合局机关工</tspan><tspan x="259" dy="11.85">作作风、劳动纪律等五项整顿工作，重点开展</tspan><tspan x="259" dy="11.85">迎峰度夏安全大检查、防汛检查、反事故检查</tspan><tspan x="259" dy="11.85">，查找安全生产存在的问题和隐患，督促整改</tspan><tspan x="259" dy="11.85">，消除隐患，夯实了安全生产基础。</tspan></text></g>
<g id="L8"><text class="t" x="259" y="1381.3"><tspan x="259">1、深入检查"安全生产月"活动学习情况，重</tspan><tspan x="259" dy="11.85">点保证上级安全简报和重要文件的贯彻落实。</tspan><tspan x="259" dy="11.85">6月中旬，局安监部利用2天时间，深入6个所</tspan><tspan x="259" dy="11.85">站，重点检查第一阶段学习要点的落实情况，</tspan><tspan x="259" dy="11.85">各单位都能及时组织员工，认真学习《玉门市</tspan><tspan x="259" dy="11.85">电力局20__年"安全生产月"活动安排意见》</tspan><tspan x="259" dy="11.85">、《反习惯性违章学习手册》以及国家电网公</tspan><tspan x="259" dy="11.85">司下发的《事故快报》，从思想强化全员安全</tspan><tspan x="259" dy="11.85">意识。</tspan></text></g>
<g id="L9"><text class="t" x="259" y="1518.3"><tspan x="259">2、检查交通车辆安全管理，重点整治交通违</tspan><tspan x="259" dy="11.85">章行为。针对全局车辆多、驾驶员多的特点，</tspan><tspan x="259" dy="11.85">根据《玉门市电力局机关作风管理制度》，严</tspan><tspan x="259" dy="11.85">查驾驶员行车安全，自6月份以来，先后查处</tspan><tspan x="259" dy="11.85">3起违章驾驶（含骑摩托车）行为，对3名违</tspan><tspan x="259" dy="11.85">章驾驶人员按照有关制度，各处罚200元。</tspan></text></g>
<g id="L10"><text class="t" x="259" y="1618.3"><tspan x="259">3、加强用电负荷监控管理，重点保障夏季用</tspan><tspan x="259" dy="11.85">电负荷高峰期。进入6月份以来，全局进入了</tspan><tspan x="259" dy="11.85">负荷高峰期，局生产部门认真监控电网运行情</tspan><tspan x="259" dy="11.85">况，针对我市东片上级电压不稳定等情况，及</tspan><tspan x="259" dy="11.85">时向__公司报告，及时调整电压，同时深入金</tspan><tspan x="259" dy="11.85">湾变电站等3座变电站，及时调整保护定值，</tspan><tspan x="259" dy="11.85">确保电网安全、可靠迎峰度夏。</tspan></text></g>
<g id="L11"><text class="t" x="259" y="1729.3"><tspan x="259">4、检查线路设备运行情况，重点保证配电线</tspan><tspan x="259" dy="11.85">路、台区安全。结合6月份抄表，各所对配电</tspan><tspan x="259" dy="11.85">线路、变压器、配电箱、集装箱进行巡视检查</tspan><tspan x="259" dy="11.85">，对发现的问题及时予以处理。先后排除树障</tspan><tspan x="259" dy="11.85">线126处、处理"三挂线"安全距离不够的8处</tspan><tspan x="259" dy="11.85">、扶正电杆112基。</tspan></text></g>
<g id="L12"><text class="t" x="259" y="1830.3"><tspan x="259">5、加强重点部位的防汛工作。我局先后对__</tspan><tspan x="259" dy="11.85">、__、__X变电站加强防汛抗洪物资的储备和</tspan><tspan x="259" dy="11.85">规范，先后充实沙袋100袋，投资5.6万元，</tspan><tspan x="259" dy="11.85">先后经过20天的筹备工作，6月9日——10日</tspan><tspan x="259" dy="11.85">对处于洪水之中的玉赤35千伏线路17号铁塔</tspan><tspan x="259" dy="11.85">进行移位处理，有效解决了洪水对铁塔的威胁</tspan><tspan x="259" dy="11.85">，确保了我局赤金主网络的安全运行。</tspan></text></g>

<g id="K1"><text class="t" x="688" y="2053.3"><tspan x="688">回顾总结一个月的工作，虽然时间比较短，但</tspan><tspan x="688" dy="11.85">成效比较显著，主要体现在以下几个方面：</tspan></text></g>
<g id="K2"><text class="t" x="688" y="2378.3"><tspan x="688">虽然取得了一定成绩，但用全面的、发展的眼</tspan><tspan x="688" dy="11.85">光来看，仍然存在以下问题：</tspan></text></g>
<g id="R1"><text class="t" x="473" y="1993.3"><tspan x="473">一是通过学习、演讲比赛等活动，进一步增强</tspan><tspan x="473" dy="11.85">了全员的安全意识，夯实了安全基础。通过技</tspan><tspan x="473" dy="11.85">术比武，使全局在水井起动设备及计量装置安</tspan><tspan x="473" dy="11.85">装、故障排查上有了进一步提高。二是全局驾</tspan><tspan x="473" dy="11.85">驶员形成了上车系安全带、驾驶摩托车戴头盔</tspan><tspan x="473" dy="11.85">、行车途中不接打电话的良好风气。</tspan></text></g>
<g id="R2"><text class="t" x="475" y="2092.3">三是实现了"安全生产月"活动中的安全目标。</text></g>
<g id="P1"><text class="t" x="473" y="2135.3"><tspan x="473">1、个别所站存在学习方式单一，学习没有针</tspan><tspan x="473" dy="11.85">对性，没有结合自身工作提出有效措施。对事</tspan><tspan x="473" dy="11.85">故案例没有很好地结合实际进行讨论、没有防</tspan><tspan x="473" dy="11.85">止类似事故的预防措施，且存在事后印象不深</tspan><tspan x="473" dy="11.85">刻、一问三不知的现象。</tspan></text></g>
<g id="P2"><text class="t" x="473" y="2222.3"><tspan x="473">2、线路下方修建小康住宅较多，各单位应本</tspan><tspan x="473" dy="11.85">着对电力设施和人身安全负责的态度，积极进</tspan><tspan x="473" dy="11.85">行宣传教育和制止违章建筑行为。</tspan></text></g>
<g id="P3"><text class="t" x="473" y="2288.3"><tspan x="473">3、线路"三挂线"问题仍然存在，还没有彻底</tspan><tspan x="473" dy="11.85">解决，各有关单位需进一步采取措施，必须彻</tspan><tspan x="473" dy="11.85">底解决此类问题。6月30日凌晨发生的城建变</tspan><tspan x="473" dy="11.85">医院后端平方低压线路与电信光纤钢绞线搭接</tspan><tspan x="473" dy="11.85">，造成钢绞线带点，在城镇供电所近4个小时</tspan><tspan x="473" dy="11.85">的查找后，最终消除了隐患，客户较满意。但</tspan><tspan x="473" dy="11.85">从中也得到了启示，那就是隐患时刻在我们的</tspan><tspan x="473" dy="11.85">身边。</tspan></text></g>
<g id="P4"><text class="t" x="473" y="2411.3"><tspan x="473">4、现场标准化作业指导卡中危险点分析不够</tspan><tspan x="473" dy="11.85">详细，需进一步完善、规范和提高。</tspan></text></g>
<g id="P5"><text class="t" x="473" y="2464.3"><tspan x="473">5、安全检查和整改工作需进一步加强。在6</tspan><tspan x="473" dy="11.85">月份"安全生产月"活动期间，由于时间十分紧</tspan><tspan x="473" dy="11.85">张，局里未进行全局安全大检查，7月份将与</tspan><tspan x="473" dy="11.85">上半年工作考核一并进行。</tspan></text></g>
<g id="P6"><text class="t" x="473" y="2630.3"><tspan x="473">6、树障问题仍很严重，需要与相关部门、乡</tspan><tspan x="473" dy="11.85">镇联系解决。</tspan></text></g>
<g id="L13"><text class="t" x="259" y="2541.3"><tspan x="259">此次"安全生产月"活动，在局领导的领导下，</tspan><tspan x="259" dy="11.85">经过各单位共同努力，取得了一定效果，达到</tspan><tspan x="259" dy="11.85">预期目的。各单位在总结"安全生产月"活动所</tspan><tspan x="259" dy="11.85">取得成果的同时，要进一步认真分析存在的问</tspan><tspan x="259" dy="11.85">题和不足，充分认识电力行业的特点，安全管</tspan><tspan x="259" dy="11.85">理工作只有起点，没有终点，切实加强安全管</tspan><tspan x="259" dy="11.85">理，尤其是作业现场和施工场所的安全管理与</tspan><tspan x="259" dy="11.85">防范，对各部门、所站查出和存在的隐患，进</tspan><tspan x="259" dy="11.85">行认真梳理，尽快落实整改，加强设备的夜间</tspan><tspan x="259" dy="11.85">巡视，特别是气温高，导线弧垂下降，易造成</tspan><tspan x="259" dy="11.85">对地距离不够，与"三挂线"搭接造成故障和事</tspan><tspan x="259" dy="11.85">故的可能，特别要对下一步半年考核中检查出</tspan><tspan x="259" dy="11.85">的问题，要抓好落实和整改，提出有针对性的</tspan><tspan x="259" dy="11.85">对策，及时消除安全隐患，以巩固"安全生产</tspan><tspan x="259" dy="11.85">月"活动成果，进一步夯实安全生产基础，确</tspan><tspan x="259" dy="11.85">保"安全生产年"顺利进展，为圆满完成20__</tspan><tspan x="259" dy="11.85">年度安全目标而努力奋斗。</tspan></text></g>

<g id="I4"><text class="t" x="688" y="3149.3"><tspan x="688">在20__年安全生产月到来之际，我们单位认</tspan><tspan x="688" dy="11.85">真组织了安全生产工作地学习，并且认真贯彻</tspan><tspan x="688" dy="11.85">落实到具体的工作当中。我们消防部门坚持"</tspan><tspan x="688" dy="11.85">以防为主、防消结合"的方针，在实际工作中</tspan><tspan x="688" dy="11.85">不断改进和完善工作方法，认真扎实的做好消</tspan><tspan x="688" dy="11.85">防安全工作。在安全生产月主题"强化安全基</tspan><tspan x="688" dy="11.85">础，推动安全发展"的指导下，我们消防部门</tspan><tspan x="688" dy="11.85">的安全生产工作取得了重大的工作进展，现将</tspan><tspan x="688" dy="11.85">这次活动工作情况总结如下：</tspan></text></g>
<g id="M1"><text class="t" x="473" y="2916.3"><tspan x="473">一、高度重视,积极做好消防安全的宣传工作</tspan><tspan x="473" dy="11.85">。只有思想上重视起来,安全行为才有保障。</tspan><tspan x="473" dy="11.85">为此,我们十分重视消防安全工作的宣传。我</tspan><tspan x="473" dy="11.85">们主要从以下方面落实这项工作。</tspan></text></g>
<g id="M2"><text class="t" x="473" y="3206.3"><tspan x="473">二、推进消防安全责任制,充分落实管理责任</tspan><tspan x="473" dy="11.85">与具体措施。只有加强管理,做到责任到人,才</tspan><tspan x="473" dy="11.85">能真正做到防微杜渐。这是我们总结出来的做</tspan><tspan x="473" dy="11.85">好消防安全工作的一条重要经验。明岗明责,</tspan><tspan x="473" dy="11.85">检查评比,是强化管理力求实效的重要举措。</tspan><tspan x="473" dy="11.85">具体说来,我们在以下六个方面加强了规范管</tspan><tspan x="473" dy="11.85">理:</tspan></text></g>
<g id="M3"><text class="t" x="473" y="3418.3"><tspan x="473">三、制定消防安全紧急预案。安全责任重于泰</tspan><tspan x="473" dy="11.85">山,消防安全无小事,为了使火险隐患能够在第</tspan><tspan x="473" dy="11.85">一时间得到有效控制,制定了切实可行的"消防</tspan><tspan x="473" dy="11.85">安全紧急预案"、"消防演练计划""消防桌面演</tspan><tspan x="473" dy="11.85">练方案"并且组织消防员进行学习和演练。全</tspan><tspan x="473" dy="11.85">面提高了员工消防安全意识和防火、灭火实际</tspan><tspan x="473" dy="11.85">操作能力从而进一步推动了学校消防教育工作</tspan><tspan x="473" dy="11.85">。</tspan></text></g>
<g id="F1"><text class="t" x="259" y="2772.3"><tspan x="259">(一)成立消防安全领导小组,统一领导、协调开</tspan><tspan x="259" dy="11.85">展消防安全教育工作。通过各级会议进行消防</tspan><tspan x="259" dy="11.85">安全宣传，领导小组坚持召开消防安全工作例</tspan><tspan x="259" dy="11.85">会,分析问题，讨论措施布置工作。领导小组</tspan><tspan x="259" dy="11.85">在每次工作大会上,对包括消防安全在内的安</tspan><tspan x="259" dy="11.85">全问题作了详尽的分析,并提出了许多需要注</tspan><tspan x="259" dy="11.85">意的问题,要求各个部门和个人将消防安全牢</tspan><tspan x="259" dy="11.85">记在心。</tspan></text></g>
<g id="F2"><text class="t" x="259" y="2896.3"><tspan x="259">(二)组织形式多样的消防安全知识教育活动,我</tspan><tspan x="259" dy="11.85">们针对各级员工接受和理解问题的特点,通过</tspan><tspan x="259" dy="11.85">相关活动,使员工掌握了基本的消防安全知识,</tspan><tspan x="259" dy="11.85">增强了消防安全意识。消防护卫部还聘请消防</tspan><tspan x="259" dy="11.85">专业讲师对全体员工进行消防安全知识讲座,</tspan><tspan x="259" dy="11.85">使全体员工掌握消防安全知识。消防护卫部进</tspan><tspan x="259" dy="11.85">行消防器材使用方法实际演练,使消防员掌握</tspan><tspan x="259" dy="11.85">了消防器材的正确使用方法和灭火技巧,全面</tspan><tspan x="259" dy="11.85">提高了员工消防安全意识和防火、灭火实际操</tspan><tspan x="259" dy="11.85">作能力从而进一步推动了学校消防教育工作。</tspan></text></g>
<g id="F3"><text class="t" x="259" y="3043.3"><tspan x="259">(三)进行了一次系统全面的消防安全检查。对</tspan><tspan x="259" dy="11.85">各个重要部门,譬如候机楼、办公室、机房、</tspan><tspan x="259" dy="11.85">车库、宿舍等消防设施进行了全面的检查。</tspan></text></g>
<g id="G1"><text class="t" x="259" y="3108.3"><tspan x="259">1、确定重点防火部位,明确重点防火部位负责</tspan><tspan x="259" dy="11.85">人。我们根据办公环境、执勤岗位、机场规划</tspan><tspan x="259" dy="11.85">等具体情况及时调整了重点部位防火责任人。</tspan></text></g>
<g id="G2"><text class="t" x="290" y="3172.3">2、经常性地检查疏散通道和应急灯。</text></g>
<g id="G3"><text class="t" x="259" y="3213.3"><tspan x="259">3、加强对候机楼、机房和宿舍的管理,不定期</tspan><tspan x="259" dy="11.85">检查安全情况。在事故易发地,我们对有关人</tspan><tspan x="259" dy="11.85">员加强消防安全教育的同时加大检查力度。</tspan></text></g>
<g id="G4"><text class="t" x="259" y="3277.3"><tspan x="259">4、加强对消防器具的管理和保养。我们并不</tspan><tspan x="259" dy="11.85">因为一些器具平时闲置无用就放弃管理,而是</tspan><tspan x="259" dy="11.85">注重保养保证随时可以应急使用,对机场重要</tspan><tspan x="259" dy="11.85">部位消防进行了保障。</tspan></text></g>
<g id="G5"><text class="t" x="259" y="3360.3"><tspan x="259">5、加强对宿宿用电安全的检查。定期检查,教</tspan><tspan x="259" dy="11.85">育人员安全用电，防止发生不安全事件。</tspan></text></g>
<g id="G6"><text class="t" x="45" y="3353.3"><tspan x="45">6 、开展消防安全检查，做到三个结合：消防</tspan><tspan x="45" dy="11.85">设施检查和重点部位检查相结合，平时小检查</tspan><tspan x="45" dy="11.85">和节假日大检查相结合，检查和整改相结合。</tspan></text></g>
<g id="H1"><text class="t" x="259" y="3424.3"><tspan x="259">安全责任重于一切，消防安全的工作也是任重</tspan><tspan x="259" dy="11.85">而道远，这是一项长期艰巨的任务，我们应该</tspan><tspan x="259" dy="11.85">在日常的工作生活中要自觉树立起防患于未然</tspan><tspan x="259" dy="11.85">的安全意识。我们要认真学习20__年安全生</tspan><tspan x="259" dy="11.85">产月主题的精神，强化安全基础，推动安全发</tspan><tspan x="259" dy="11.85">展，相信在我们大家的共同努力下，我们一定</tspan><tspan x="259" dy="11.85">可以把消防安全的工作做好。</tspan></text></g>

<g id="watermarks">
<text class="wm" x="419" y="656" transform="rotate(-31 419 656)">树图 shutu.cn</text>
<text class="wm" x="1634" y="668" transform="rotate(-31 1634 668)">树图 shutu.cn</text>
<text class="wm" x="419" y="1652" transform="rotate(-31 419 1652)">树图 shutu.cn</text>
<text class="wm" x="1634" y="1664" transform="rotate(-31 1634 1664)">树图 shutu.cn</text>
<text class="wm" x="419" y="2648" transform="rotate(-31 419 2648)">树图 shutu.cn</text>
<text class="wm" x="1634" y="2660" transform="rotate(-31 1634 2660)">树图 shutu.cn</text>
<text class="wm" x="419" y="3644" transform="rotate(-31 419 3644)">树图 shutu.cn</text>
<text class="wm" x="1634" y="3656" transform="rotate(-31 1634 3656)">树图 shutu.cn</text>
</g>
</svg>
